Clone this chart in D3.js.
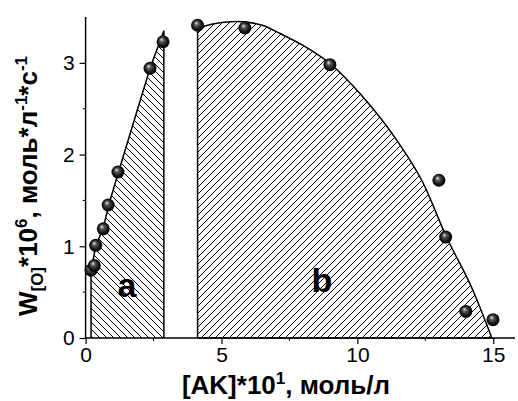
<!DOCTYPE html>
<html>
<head>
<meta charset="utf-8">
<script src="https://cdn.jsdelivr.net/npm/d3@7"></script>
<style>
  body { margin: 0; background: #fff; }
  svg { display: block; font-family: Arial, "Liberation Sans", sans-serif; }
</style>
</head>
<body>
<div id="chart"></div>
<script>
(function() {

  // measured points: [AK]*10, W*10^6
  var pointsX = [0.2, 0.32, 0.37, 0.65, 0.83, 1.19, 2.37, 2.85, 4.12, 5.86, 8.99, 13.0, 13.25, 13.99, 14.99],
      pointsY = [0.74, 0.79, 1.01, 1.19, 1.45, 1.81, 2.94, 3.23, 3.41, 3.38, 2.98, 1.72, 1.10, 0.29, 0.20];

  // region a: upper boundary
  var areaAX = [0.2, 0.37, 0.65, 0.85, 1.2, 2.37, 2.88],
      areaAY = [0.72, 1.0, 1.2, 1.45, 1.8, 2.94, 3.35];

  // region b: fitted curve
  var areaBX = [4.12, 5.0, 5.6, 6.5, 7.15, 8.0, 9.0, 10.2, 11.44, 12.42, 13.25, 14.25, 14.95],
      areaBY = [3.38, 3.44, 3.45, 3.41, 3.32, 3.19, 2.99, 2.63, 2.16, 1.69, 1.12, 0.52, 0.0];

  var xTicks = [0, 5, 10, 15],
      xMinor = [2.5, 7.5, 12.5],
      yTicks = [0, 1, 2, 3],
      yMinor = [0.5, 1.5, 2.5];

  var width = 518, height = 401,
      left = 85.6, top = 17, bottom = 338, right = 515;

  var x = d3.scaleLinear().domain([0, 15.8]).range([left, right]),
      y = d3.scaleLinear().domain([0, 3.5]).range([bottom, top]);

  var svg = d3.select("#chart").append("svg")
      .attr("width", width)
      .attr("height", height);

  var defs = svg.append("defs");

  defs.append("pattern")
      .attr("id", "hatch-a")
      .attr("patternUnits", "userSpaceOnUse")
      .attr("width", 7).attr("height", 7)
    .append("path")
      .attr("d", "M-1,6 l2,2 M0,0 l7,7 M6,-1 l2,2")
      .attr("stroke", "#000").attr("stroke-width", 1);

  defs.append("pattern")
      .attr("id", "hatch-b")
      .attr("patternUnits", "userSpaceOnUse")
      .attr("width", 7).attr("height", 7)
    .append("path")
      .attr("d", "M-1,1 l2,-2 M0,7 l7,-7 M6,8 l2,-2")
      .attr("stroke", "#000").attr("stroke-width", 1);

  var grad = defs.append("radialGradient")
      .attr("id", "ball")
      .attr("cx", "50%").attr("cy", "50%").attr("r", "55%")
      .attr("fx", "38%").attr("fy", "32%");
  grad.append("stop").attr("offset", "0%").attr("stop-color", "#e8e8e8");
  grad.append("stop").attr("offset", "30%").attr("stop-color", "#555");
  grad.append("stop").attr("offset", "70%").attr("stop-color", "#111");
  grad.append("stop").attr("offset", "100%").attr("stop-color", "#000");

  // region a
  var polyA = [[areaAX[0], 0]]
      .concat(areaAX.map(function(d, i) { return [d, areaAY[i]]; }))
      .concat([[areaAX[areaAX.length - 1], 0]]);

  svg.append("path")
      .attr("d", d3.line().x(function(d) { return x(d[0]); }).y(function(d) { return y(d[1]); })(polyA))
      .attr("fill", "url(#hatch-a)")
      .attr("stroke", "#000")
      .attr("stroke-width", 1.5);

  // region b
  var curveB = areaBX.map(function(d, i) { return [d, areaBY[i]]; });
  var lineB = d3.line()
      .x(function(d) { return x(d[0]); })
      .y(function(d) { return y(d[1]); })
      .curve(d3.curveMonotoneX);
  var topPath = lineB(curveB);

  svg.append("path")
      .attr("d", "M" + x(areaBX[0]) + "," + y(0) + "L" + topPath.slice(1) + "Z")
      .attr("fill", "url(#hatch-b)")
      .attr("stroke", "#000")
      .attr("stroke-width", 1.5);

  // axes
  var xAxis = svg.append("g")
      .attr("transform", "translate(0," + bottom + ")");
  xAxis.call(d3.axisBottom(x).tickValues(xTicks).tickSize(6).tickPadding(3).tickFormat(d3.format("d")));
  xAxis.selectAll(".minor").data(xMinor).enter().append("line")
      .attr("x1", x).attr("x2", x).attr("y1", 0).attr("y2", 3)
      .attr("stroke", "#000");

  var yAxis = svg.append("g")
      .attr("transform", "translate(" + left + ",0)");
  yAxis.call(d3.axisLeft(y).tickValues(yTicks).tickSize(6).tickPadding(5).tickFormat(d3.format("d")));
  yAxis.selectAll(".minor").data(yMinor).enter().append("line")
      .attr("y1", y).attr("y2", y).attr("x1", 0).attr("x2", -3)
      .attr("stroke", "#000");

  svg.selectAll(".domain").attr("stroke-width", 1.5)
      .attr("d", function() {
        return this.parentNode === xAxis.node()
          ? "M" + left + ",0H" + right
          : "M0," + top + "V" + bottom;
      });
  svg.selectAll(".tick line").attr("stroke-width", 1.2);
  svg.selectAll(".tick text").attr("font-size", 21).attr("font-family", "Arial, 'Liberation Sans', sans-serif").attr("fill", "#000");

  // points
  svg.append("g").selectAll("circle")
      .data(pointsX.map(function(d, i) { return [d, pointsY[i]]; }))
    .enter().append("circle")
      .attr("cx", function(d) { return x(d[0]); })
      .attr("cy", function(d) { return y(d[1]); })
      .attr("r", 6.5)
      .attr("fill", "url(#ball)");

  // region letters
  svg.append("text")
      .attr("x", 127).attr("y", 297)
      .attr("text-anchor", "middle")
      .attr("font-size", 34).attr("font-weight", "bold")
      .text("a");
  svg.append("text")
      .attr("x", 322).attr("y", 292)
      .attr("text-anchor", "middle")
      .attr("font-size", 34).attr("font-weight", "bold")
      .text("b");

  // axis titles
  var xt = svg.append("text")
      .attr("x", 286).attr("y", 394)
      .attr("text-anchor", "middle")
      .attr("font-size", 26).attr("font-weight", "bold");
  xt.append("tspan").text("[AK]*10");
  xt.append("tspan").attr("dy", -10).attr("font-size", 17).text("1");
  xt.append("tspan").attr("dy", 10).text(", моль/л");

  var yt = svg.append("text")
      .attr("transform", "translate(37,186) rotate(-90)")
      .attr("text-anchor", "middle")
      .attr("font-size", 26).attr("font-weight", "bold");
  yt.append("tspan").text("W");
  yt.append("tspan").attr("dy", 6).attr("font-size", 17).text("[O]");
  yt.append("tspan").attr("dy", -6).text("*10");
  yt.append("tspan").attr("dy", -10).attr("font-size", 17).text("6");
  yt.append("tspan").attr("dy", 10).text(", моль*л");
  yt.append("tspan").attr("dy", -10).attr("font-size", 17).text("-1");
  yt.append("tspan").attr("dy", 10).text("*с");
  yt.append("tspan").attr("dy", -10).attr("font-size", 17).text("-1");

})();
</script>
</body>
</html>
